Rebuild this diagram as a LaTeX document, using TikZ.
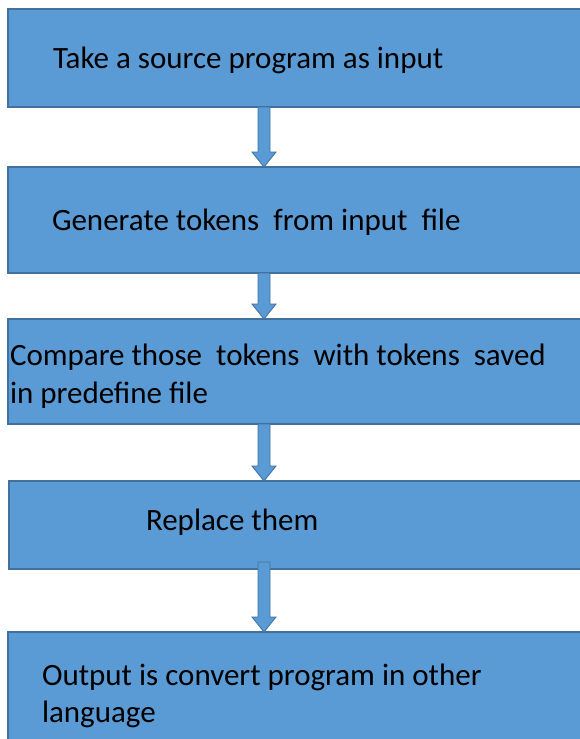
\documentclass[tikz,border=0pt]{standalone}
\usepackage{fontspec}
\setmainfont{Carlito}
\usetikzlibrary{calc}
\definecolor{boxfill}{HTML}{5B9BD5}
\definecolor{boxline}{HTML}{41719C}
\tikzset{
  flowbox/.style={draw=boxline, fill=boxfill, line width=1.5pt, inner sep=0pt, outer sep=0pt,
    anchor=north west, minimum width=700pt},
  flowtext/.style={anchor=base west, inner sep=0pt, outer sep=0pt, text=black,
    font=\fontsize{31}{37}\selectfont},
  flowarrow/.style={draw=boxline, fill=boxfill, line width=0.8pt, line join=miter}
}
\newcommand\drawflowarrow[2]{%
  \filldraw[flowarrow] ($(#1)+(-6,0)$) -- ($(#2)+(-6,-15)$) -- ($(#2)+(-12,-15)$) -- (#2)
    -- ($(#2)+(12,-15)$) -- ($(#2)+(6,-15)$) -- ($(#1)+(6,0)$) -- cycle;}
\begin{document}
\begin{tikzpicture}[x=1pt,y=-1pt]
\useasboundingbox (0,0) rectangle (579,739);
\begin{scope}
\clip (-1,-1) rectangle (580,740);
\fill[white] (-1,-1) rectangle (580,740);
\coordinate (axis) at (264,0);
% boxes
\node[flowbox, minimum height=98pt] (b1) at (8,9) {};
\node[flowbox, minimum height=106pt] (b2) at (8,167) {};
\node[flowbox, minimum height=105pt] (b3) at (8,319) {};
\node[flowbox, minimum height=88pt] (b4) at (9,481) {};
\node[flowbox, minimum height=130pt] (b5) at (8,632) {};
% texts
\node[flowtext] (t1) at (53,68) {Take a source program as input};
\node[flowtext] (t2) at (52,230) {Generate tokens\ \ from input\ \ file};
\node[flowtext] (t3a) at (10,365) {Compare those\ \ tokens\ \ with tokens\ \ saved};
\node[flowtext] (t3b) at (10,403) {in predefine file};
\node[flowtext] (t4) at (146,530) {Replace them};
\node[flowtext] (t5a) at (42,685) {Output is convert program in other};
\node[flowtext] (t5b) at (42,722) {language};
% arrows
\coordinate (a1s) at (b1.south -| axis);
\coordinate (a1e) at (b2.north -| axis);
\coordinate (a2s) at (b2.south -| axis);
\coordinate (a2e) at (b3.north -| axis);
\coordinate (a3s) at (b3.south -| axis);
\coordinate (a3e) at (b4.north -| axis);
\coordinate (a4s) at ($(b4.south -| axis)+(0,-7)$);
\coordinate (a4e) at (b5.north -| axis);
\drawflowarrow{a1s}{a1e}
\drawflowarrow{a2s}{a2e}
\drawflowarrow{a3s}{a3e}
\drawflowarrow{a4s}{a4e}
\end{scope}
\end{tikzpicture}
\end{document}
